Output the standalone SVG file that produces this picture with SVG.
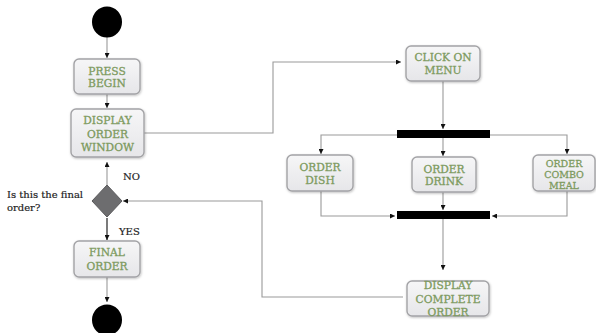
<svg xmlns="http://www.w3.org/2000/svg" width="596" height="333" viewBox="0 0 596 333">
<defs>
<linearGradient id="bg" x1="0" y1="0" x2="0" y2="1">
<stop offset="0" stop-color="#f6f6f7"/>
<stop offset="1" stop-color="#e6e6e9"/>
</linearGradient>
<marker id="ah" viewBox="0 0 6 6" refX="6" refY="3" markerWidth="5" markerHeight="5" orient="auto" markerUnits="userSpaceOnUse">
<path d="M0,0 L6,3 L0,6 z" fill="#111"/>
</marker>
<filter id="sh" x="-10%" y="-10%" width="125%" height="130%">
<feDropShadow dx="0.6" dy="1" stdDeviation="0.8" flood-color="#000" flood-opacity="0.25"/>
</filter>
</defs>
<style>
.box{fill:url(#bg);stroke:#a3a3a6;stroke-width:1.4;filter:url(#sh)}
.lbl{font-family:"DejaVu Serif","Liberation Serif",serif;font-size:10.7px;fill:#7d9a5e;stroke:#7d9a5e;stroke-width:0.3;text-anchor:middle}
.note{font-family:"DejaVu Serif","Liberation Serif",serif;font-size:10px;fill:#222;stroke:#222;stroke-width:0.2}
.c{fill:none;stroke:#9a9a9a;stroke-width:1.1}
.cd{fill:none;stroke:#222;stroke-width:1.2}
.bar{fill:#000}
</style>
<rect width="596" height="333" fill="#fff"/>
<g id="connectors">
<path class="c" d="M107,37 V58" marker-end="url(#ah)"/>
<path class="c" d="M107,94 V108" marker-end="url(#ah)"/>
<path class="c" d="M107,185 V162" marker-end="url(#ah)"/>
<path class="cd" d="M107,218 V240" marker-end="url(#ah)"/>
<path class="c" d="M107,277 V302" marker-end="url(#ah)"/>
<path class="c" d="M144,133 H273 V62 H401" marker-end="url(#ah)"/>
<path class="c" d="M443,81 V129" marker-end="url(#ah)"/>
<path class="c" d="M397,135 H321 V154" marker-end="url(#ah)"/>
<path class="c" d="M443,138 V156" marker-end="url(#ah)"/>
<path class="c" d="M490,135 H567 V154" marker-end="url(#ah)"/>
<path class="c" d="M321,191 V216 H395" marker-end="url(#ah)"/>
<path class="c" d="M443,192 V210" marker-end="url(#ah)"/>
<path class="c" d="M567,191 V216 H492" marker-end="url(#ah)"/>
<path class="c" d="M443,219 V270" marker-end="url(#ah)"/>
<path class="c" d="M403,297 H262 V201 H123" marker-end="url(#ah)"/>
</g>
<g id="start"><ellipse cx="107" cy="22" rx="15" ry="15.5" fill="#000"/></g>
<g id="pressBegin"><rect class="box" x="74" y="59" width="66" height="35" rx="5"/><text class="lbl" x="107" y="74.5">PRESS</text><text class="lbl" x="107" y="86.5">BEGIN</text></g>
<g id="displayOrderWindow"><rect class="box" x="71" y="109" width="73" height="48" rx="5"/><text class="lbl" x="107.5" y="124">DISPLAY</text><text class="lbl" x="107.5" y="137.5">ORDER</text><text class="lbl" x="107.5" y="151">WINDOW</text></g>
<g id="decision"><path d="M107,185 L122,201 L107,217 L92,201 z" fill="#6d6d6f" stroke="#5a5a5c" stroke-width="1"/><text class="note" x="7" y="198">Is this the final</text><text class="note" x="7" y="211">order?</text><text class="note" x="123" y="180">NO</text><text class="note" x="119" y="235">YES</text></g>
<g id="finalOrder"><rect class="box" x="74" y="241" width="66" height="36" rx="5"/><text class="lbl" x="107" y="256">FINAL</text><text class="lbl" x="107" y="270">ORDER</text></g>
<g id="end"><ellipse cx="107" cy="320" rx="15" ry="15.5" fill="#000"/></g>
<g id="clickOnMenu"><rect class="box" x="406" y="46" width="74" height="35" rx="5"/><text class="lbl" x="443" y="61">CLICK ON</text><text class="lbl" x="443" y="74">MENU</text></g>
<g id="fork"><rect class="bar" x="397" y="130" width="93" height="8"/></g>
<g id="orderDish"><rect class="box" x="287" y="155" width="66" height="36" rx="5"/><text class="lbl" x="320" y="171">ORDER</text><text class="lbl" x="320" y="184">DISH</text></g>
<g id="orderDrink"><rect class="box" x="412" y="157" width="64" height="35" rx="5"/><text class="lbl" x="444" y="173">ORDER</text><text class="lbl" x="444" y="185">DRINK</text></g>
<g id="orderCombo"><rect class="box" x="533" y="155" width="62" height="36" rx="5"/><text class="lbl" x="564" y="166.5" style="font-size:9.5px">ORDER</text><text class="lbl" x="564" y="177.5" style="font-size:9.5px">COMBO</text><text class="lbl" x="564" y="188.5" style="font-size:9.5px">MEAL</text></g>
<g id="join"><rect class="bar" x="397" y="211" width="93" height="8"/></g>
<g id="displayCompleteOrder"><rect class="box" x="407" y="281" width="82" height="35" rx="5"/><text class="lbl" x="448" y="289">DISPLAY</text><text class="lbl" x="448" y="302.5">COMPLETE</text><text class="lbl" x="448" y="316">ORDER</text></g>
</svg>
